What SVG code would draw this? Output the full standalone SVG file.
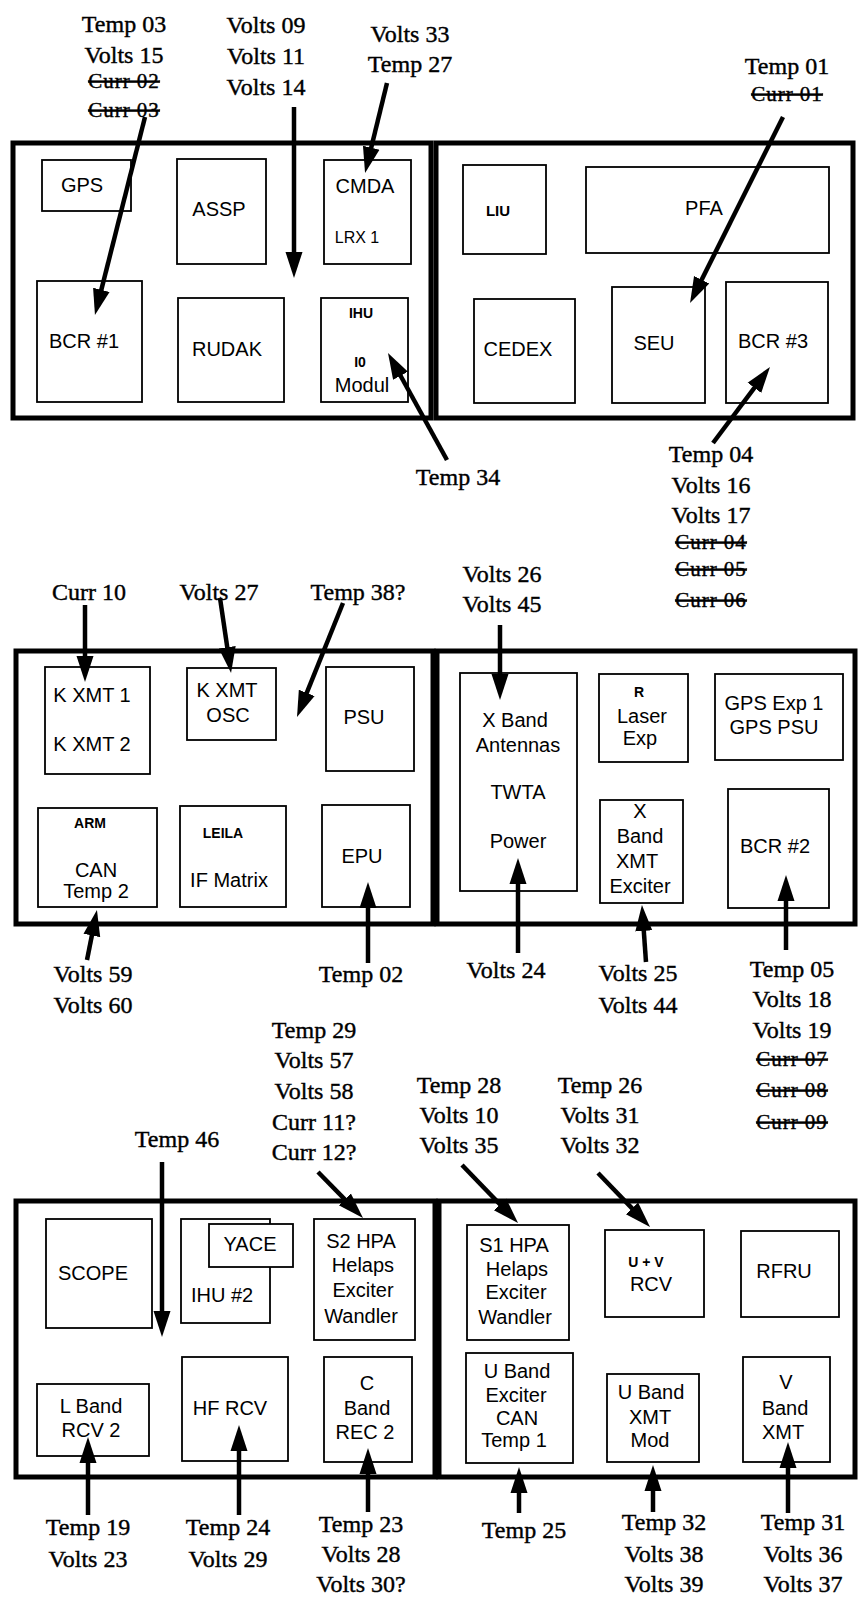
<svg xmlns="http://www.w3.org/2000/svg" width="859" height="1597" viewBox="0 0 859 1597">
<style>
.lbl{font-family:"Liberation Serif",serif;font-size:24px;text-anchor:middle;fill:#000;stroke:#000;stroke-width:0.4}
.strk{text-decoration:line-through;font-size:21px;letter-spacing:1px}
.nt{font-family:"Liberation Sans",Arial,sans-serif;font-size:20px;text-anchor:middle;fill:#000}
.sm{font-family:"Liberation Sans",Arial,sans-serif;font-size:14px;font-weight:bold;text-anchor:middle;fill:#000}
.frame{fill:none;stroke:#000;stroke-width:5}
.box{fill:#fff;stroke:#000;stroke-width:1.8}
.arr{stroke:#000;stroke-width:4.5;fill:none;marker-end:url(#ah)}
</style>
<defs>
<marker id="ah" markerUnits="userSpaceOnUse" viewBox="0 -10 28 20" markerWidth="28" markerHeight="20" refX="14" refY="0" orient="auto">
<path d="M0,-8.5 L26,0 L0,8.5 z" fill="#000"/>
</marker>
</defs>
<rect width="859" height="1597" fill="#fff"/>
<g id="frames">
<rect class="frame" x="13" y="143" width="418" height="275"/>
<rect class="frame" x="436" y="143" width="417" height="275"/>
<rect class="frame" x="16" y="651" width="417" height="273"/>
<rect class="frame" x="437" y="651" width="418" height="273"/>
<rect class="frame" x="16" y="1201" width="419" height="276"/>
<rect class="frame" x="439" y="1201" width="416" height="276"/>
</g>
<g id="n-gps"><rect class="box" x="42" y="160" width="89" height="51"/><text class="nt" x="82" y="192">GPS</text></g>
<g id="n-assp"><rect class="box" x="177" y="159" width="89" height="105"/><text class="nt" x="219" y="216">ASSP</text></g>
<g id="n-cmda"><rect class="box" x="324" y="160" width="87" height="104"/><text class="nt" x="365" y="193">CMDA</text><text class="nt" x="357" y="243" style="font-size:16px">LRX 1</text></g>
<g id="n-bcr1"><rect class="box" x="37" y="281" width="105" height="121"/><text class="nt" x="84" y="348">BCR #1</text></g>
<g id="n-rudak"><rect class="box" x="178" y="298" width="106" height="104"/><text class="nt" x="227" y="356">RUDAK</text></g>
<g id="n-ihu"><rect class="box" x="321" y="298" width="87" height="104"/><text class="sm" x="361" y="318">IHU</text><text class="sm" x="360" y="367">I0</text><text class="nt" x="362" y="392">Modul</text></g>
<g id="n-liu"><rect class="box" x="463" y="165" width="83" height="89"/><text class="sm" x="498" y="216" style="font-size:15px">LIU</text></g>
<g id="n-pfa"><rect class="box" x="586" y="167" width="243" height="86"/><text class="nt" x="704" y="215">PFA</text></g>
<g id="n-cedex"><rect class="box" x="474" y="299" width="101" height="104"/><text class="nt" x="518" y="356">CEDEX</text></g>
<g id="n-seu"><rect class="box" x="612" y="287" width="93" height="116"/><text class="nt" x="654" y="350">SEU</text></g>
<g id="n-bcr3"><rect class="box" x="726" y="282" width="102" height="121"/><text class="nt" x="773" y="348">BCR #3</text></g>

<g id="n-kxmt"><rect class="box" x="45" y="667" width="105" height="107"/><text class="nt" x="92" y="702">K XMT 1</text><text class="nt" x="92" y="751">K XMT 2</text></g>
<g id="n-kosc"><rect class="box" x="187" y="668" width="89" height="72"/><text class="nt" x="227" y="697">K XMT</text><text class="nt" x="228" y="722">OSC</text></g>
<g id="n-psu"><rect class="box" x="326" y="667" width="88" height="104"/><text class="nt" x="364" y="724">PSU</text></g>
<g id="n-arm"><rect class="box" x="38" y="808" width="119" height="99"/><text class="sm" x="90" y="828">ARM</text><text class="nt" x="96" y="877">CAN</text><text class="nt" x="96" y="898">Temp 2</text></g>
<g id="n-leila"><rect class="box" x="180" y="806" width="106" height="101"/><text class="sm" x="223" y="838">LEILA</text><text class="nt" x="229" y="887">IF Matrix</text></g>
<g id="n-epu"><rect class="box" x="322" y="805" width="88" height="102"/><text class="nt" x="362" y="863">EPU</text></g>
<g id="n-xband"><rect class="box" x="460" y="673" width="117" height="218"/><text class="nt" x="515" y="727">X Band</text><text class="nt" x="518" y="752">Antennas</text><text class="nt" x="518" y="799">TWTA</text><text class="nt" x="518" y="848">Power</text></g>
<g id="n-laser"><rect class="box" x="599" y="674" width="89" height="88"/><text class="sm" x="639" y="697">R</text><text class="nt" x="642" y="723">Laser</text><text class="nt" x="640" y="745">Exp</text></g>
<g id="n-gpsexp"><rect class="box" x="715" y="674" width="128" height="86"/><text class="nt" x="774" y="710">GPS Exp 1</text><text class="nt" x="774" y="734">GPS PSU</text></g>
<g id="n-xexc"><rect class="box" x="600" y="800" width="83" height="103"/><text class="nt" x="640" y="818">X</text><text class="nt" x="640" y="843">Band</text><text class="nt" x="637" y="868">XMT</text><text class="nt" x="640" y="893">Exciter</text></g>
<g id="n-bcr2"><rect class="box" x="728" y="789" width="101" height="119"/><text class="nt" x="775" y="853">BCR #2</text></g>

<g id="n-scope"><rect class="box" x="46" y="1219" width="106" height="109"/><text class="nt" x="93" y="1280">SCOPE</text></g>
<g id="n-ihu2"><rect class="box" x="181" y="1219" width="89" height="104"/><text class="nt" x="222" y="1302">IHU #2</text></g>
<g id="n-yace"><rect class="box" x="209" y="1224" width="84" height="43"/><text class="nt" x="250" y="1251">YACE</text></g>
<g id="n-s2hpa"><rect class="box" x="314" y="1219" width="101" height="121"/><text class="nt" x="361" y="1248">S2 HPA</text><text class="nt" x="363" y="1272">Helaps</text><text class="nt" x="363" y="1297">Exciter</text><text class="nt" x="361" y="1323">Wandler</text></g>
<g id="n-lband"><rect class="box" x="37" y="1384" width="112" height="72"/><text class="nt" x="91" y="1413">L Band</text><text class="nt" x="91" y="1437">RCV 2</text></g>
<g id="n-hfrcv"><rect class="box" x="182" y="1357" width="106" height="104"/><text class="nt" x="230" y="1415">HF RCV</text></g>
<g id="n-cband"><rect class="box" x="324" y="1357" width="88" height="105"/><text class="nt" x="367" y="1390">C</text><text class="nt" x="367" y="1415">Band</text><text class="nt" x="365" y="1439">REC 2</text></g>
<g id="n-s1hpa"><rect class="box" x="467" y="1225" width="102" height="115"/><text class="nt" x="514" y="1252">S1 HPA</text><text class="nt" x="517" y="1276">Helaps</text><text class="nt" x="516" y="1299">Exciter</text><text class="nt" x="515" y="1324">Wandler</text></g>
<g id="n-uvrcv"><rect class="box" x="605" y="1230" width="99" height="87"/><text class="sm" x="646" y="1267">U + V</text><text class="nt" x="651" y="1291">RCV</text></g>
<g id="n-rfru"><rect class="box" x="741" y="1231" width="98" height="86"/><text class="nt" x="784" y="1278">RFRU</text></g>
<g id="n-uexc"><rect class="box" x="466" y="1353" width="107" height="110"/><text class="nt" x="517" y="1378">U Band</text><text class="nt" x="516" y="1402">Exciter</text><text class="nt" x="517" y="1425">CAN</text><text class="nt" x="514" y="1447">Temp 1</text></g>
<g id="n-uxmt"><rect class="box" x="607" y="1374" width="92" height="88"/><text class="nt" x="651" y="1399">U Band</text><text class="nt" x="650" y="1424">XMT</text><text class="nt" x="650" y="1447">Mod</text></g>
<g id="n-vxmt"><rect class="box" x="743" y="1357" width="87" height="105"/><text class="nt" x="786" y="1389">V</text><text class="nt" x="785" y="1415">Band</text><text class="nt" x="783" y="1439">XMT</text></g>

<g id="connectors">
<line class="arr" x1="145" y1="117" x2="97.9" y2="303.4"/>
<line class="arr" x1="294" y1="107" x2="294" y2="266"/>
<line class="arr" x1="387" y1="83" x2="367.9" y2="161.3"/>
<line class="arr" x1="447" y1="460" x2="393.8" y2="363.5"/>
<line class="arr" x1="783" y1="117" x2="695.4" y2="292.3"/>
<line class="arr" x1="713" y1="443" x2="762.8" y2="376.6"/>
<line class="arr" x1="85" y1="605" x2="85" y2="670"/>
<line class="arr" x1="220" y1="598" x2="229.3" y2="661.1"/>
<line class="arr" x1="343" y1="603" x2="301.5" y2="705.9"/>
<line class="arr" x1="87" y1="960" x2="94.6" y2="921.8"/>
<line class="arr" x1="368" y1="963" x2="368" y2="894"/>
<line class="arr" x1="500" y1="625" x2="500" y2="688"/>
<line class="arr" x1="518" y1="953" x2="518" y2="870"/>
<line class="arr" x1="646" y1="962" x2="642.8" y2="917"/>
<line class="arr" x1="786" y1="950" x2="786" y2="887"/>
<line class="arr" x1="162" y1="1162" x2="162" y2="1325"/>
<line class="arr" x1="318" y1="1172" x2="354.6" y2="1209.4"/>
<line class="arr" x1="88" y1="1515" x2="88" y2="1449"/>
<line class="arr" x1="239" y1="1515" x2="239" y2="1437"/>
<line class="arr" x1="368" y1="1512" x2="368" y2="1460"/>
<line class="arr" x1="462" y1="1165" x2="509.7" y2="1214.4"/>
<line class="arr" x1="598" y1="1173" x2="641.7" y2="1218.4"/>
<line class="arr" x1="519" y1="1513" x2="519" y2="1479"/>
<line class="arr" x1="653" y1="1512" x2="653" y2="1477"/>
<line class="arr" x1="788" y1="1513" x2="788" y2="1454"/>
</g>

<g id="labels">
<text class="lbl" x="124" y="32">Temp 03</text>
<text class="lbl" x="124" y="63">Volts 15</text>
<text class="lbl strk" x="124" y="88">Curr 02</text>
<text class="lbl strk" x="124" y="117">Curr 03</text>
<text class="lbl" x="266" y="33">Volts 09</text>
<text class="lbl" x="266" y="64">Volts 11</text>
<text class="lbl" x="266" y="95">Volts 14</text>
<text class="lbl" x="410" y="42">Volts 33</text>
<text class="lbl" x="410" y="72">Temp 27</text>
<text class="lbl" x="787" y="74">Temp 01</text>
<text class="lbl strk" x="787" y="101">Curr 01</text>
<text class="lbl" x="458" y="485">Temp 34</text>
<text class="lbl" x="711" y="462">Temp 04</text>
<text class="lbl" x="711" y="493">Volts 16</text>
<text class="lbl" x="711" y="523">Volts 17</text>
<text class="lbl strk" x="711" y="549">Curr 04</text>
<text class="lbl strk" x="711" y="576">Curr 05</text>
<text class="lbl strk" x="711" y="607">Curr 06</text>

<text class="lbl" x="89" y="600">Curr 10</text>
<text class="lbl" x="219" y="600">Volts 27</text>
<text class="lbl" x="358" y="600">Temp 38?</text>
<text class="lbl" x="502" y="582">Volts 26</text>
<text class="lbl" x="502" y="612">Volts 45</text>
<text class="lbl" x="93" y="982">Volts 59</text>
<text class="lbl" x="93" y="1013">Volts 60</text>
<text class="lbl" x="361" y="982">Temp 02</text>
<text class="lbl" x="506" y="978">Volts 24</text>
<text class="lbl" x="638" y="981">Volts 25</text>
<text class="lbl" x="638" y="1013">Volts 44</text>
<text class="lbl" x="792" y="977">Temp 05</text>
<text class="lbl" x="792" y="1007">Volts 18</text>
<text class="lbl" x="792" y="1038">Volts 19</text>
<text class="lbl strk" x="792" y="1066">Curr 07</text>
<text class="lbl strk" x="792" y="1097">Curr 08</text>
<text class="lbl strk" x="792" y="1129">Curr 09</text>

<text class="lbl" x="177" y="1147">Temp 46</text>
<text class="lbl" x="314" y="1038">Temp 29</text>
<text class="lbl" x="314" y="1068">Volts 57</text>
<text class="lbl" x="314" y="1099">Volts 58</text>
<text class="lbl" x="314" y="1130">Curr 11?</text>
<text class="lbl" x="314" y="1160">Curr 12?</text>
<text class="lbl" x="459" y="1093">Temp 28</text>
<text class="lbl" x="459" y="1123">Volts 10</text>
<text class="lbl" x="459" y="1153">Volts 35</text>
<text class="lbl" x="600" y="1093">Temp 26</text>
<text class="lbl" x="600" y="1123">Volts 31</text>
<text class="lbl" x="600" y="1153">Volts 32</text>
<text class="lbl" x="88" y="1535">Temp 19</text>
<text class="lbl" x="88" y="1567">Volts 23</text>
<text class="lbl" x="228" y="1535">Temp 24</text>
<text class="lbl" x="228" y="1567">Volts 29</text>
<text class="lbl" x="361" y="1532">Temp 23</text>
<text class="lbl" x="361" y="1562">Volts 28</text>
<text class="lbl" x="361" y="1592">Volts 30?</text>
<text class="lbl" x="524" y="1538">Temp 25</text>
<text class="lbl" x="664" y="1530">Temp 32</text>
<text class="lbl" x="664" y="1562">Volts 38</text>
<text class="lbl" x="664" y="1592">Volts 39</text>
<text class="lbl" x="803" y="1530">Temp 31</text>
<text class="lbl" x="803" y="1562">Volts 36</text>
<text class="lbl" x="803" y="1592">Volts 37</text>
</g>
</svg>
